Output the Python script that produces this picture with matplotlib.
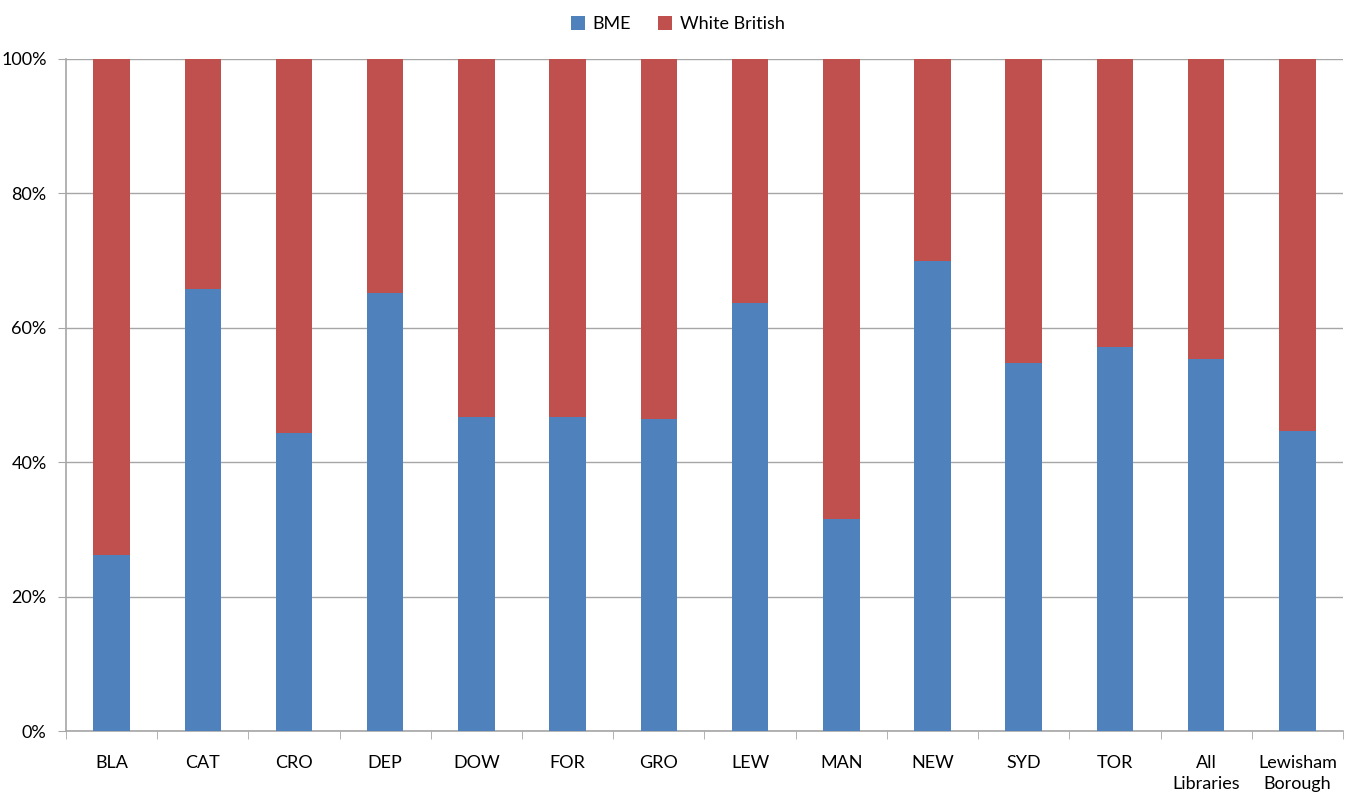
import numpy as np
import matplotlib
matplotlib.use('Agg')
import matplotlib.pyplot as plt
from matplotlib.ticker import PercentFormatter

plt.rcParams['font.family'] = ['Lato', 'DejaVu Sans']

libraries = ['BLA', 'CAT', 'CRO', 'DEP', 'DOW', 'FOR', 'GRO', 'LEW', 'MAN', 'NEW',
             'SYD', 'TOR', 'All\nLibraries', 'Lewisham\nBorough']
bme = [26.2, 65.8, 44.3, 65.2, 46.7, 46.7, 46.4, 63.7, 31.5, 69.9, 54.8, 57.1, 55.4, 44.6]
white_british = [100 - v for v in bme]

blue = '#4f81bd'
red = '#c0504d'

fig = plt.figure(figsize=(13.55, 7.97), dpi=100)
ax = fig.add_axes([0.0487, 0.0828, 0.9424, 0.8432])

x = np.arange(len(libraries))
ax.bar(x, bme, width=0.4, color=blue, label='BME', zorder=3)
ax.bar(x, white_british, width=0.4, bottom=bme, color=red, label='White British', zorder=3)

ax.set_xlim(-0.5, len(libraries) - 0.5)
ax.set_ylim(0, 100)
ax.set_yticks(np.arange(0, 101, 20))
ax.yaxis.set_major_formatter(PercentFormatter(decimals=0))
ax.grid(axis='y', color='#a6a6a6', linewidth=1, zorder=0)

ax.set_xticks(x)
ax.set_xticklabels(libraries, linespacing=1.45)
ax.set_xticks(np.arange(-0.5, len(libraries)), minor=True)
ax.tick_params(axis='x', which='major', length=0, pad=17, labelsize=13)
ax.tick_params(axis='x', which='minor', length=6, color='#a6a6a6', direction='out')
ax.tick_params(axis='y', length=6, color='#a6a6a6', labelsize=13, pad=8)

for side in ['top', 'right']:
    ax.spines[side].set_visible(False)
for side in ['left', 'bottom']:
    ax.spines[side].set_color('#a6a6a6')
    ax.spines[side].set_linewidth(1.2)

fig.legend(loc='upper center', bbox_to_anchor=(0.5, 1.0), ncol=2, frameon=False,
           fontsize=13, handlelength=0.8, handleheight=0.8, handletextpad=0.4,
           columnspacing=1.5)

fig.savefig('out.png', dpi=100)
